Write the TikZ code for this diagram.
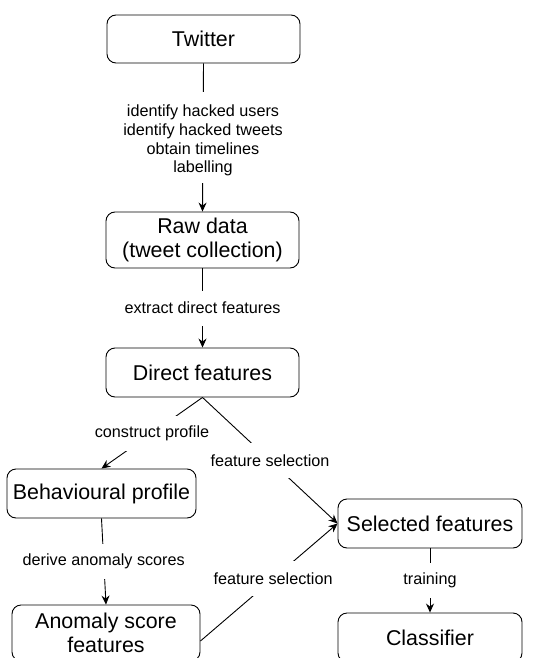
\documentclass[tikz,border=0pt]{standalone}
\usepackage{fontspec}
\setmainfont{Liberation Sans}
\usetikzlibrary{arrows.meta}
\begin{document}
\begin{tikzpicture}[x=1pt,y=-1pt,
  box/.style={draw, line width=0.9pt, rounded corners=9pt, align=center, inner sep=0pt,
    font=\fontsize{21.4}{24}\selectfont},
  lbl/.style={fill=white, inner xsep=3pt, inner ysep=0pt, minimum height=35pt, align=center,
    font=\fontsize{16.2}{18.7}\selectfont},
  conn/.style={draw, line width=0.9pt},
  arr/.style={conn, -{Stealth[length=9pt,width=8pt,inset=3pt]}}
]
\useasboundingbox (0,0) rectangle (535,658);
\clip (0,0) rectangle (535,658);

\node[box, minimum width=193pt, minimum height=48pt] (tw) at (203.5,39) {Twitter};
\node[box, minimum width=193pt, minimum height=56pt] (raw) at (202.5,240) {Raw data\\(tweet collection)};
\node[box, minimum width=193pt, minimum height=49pt] (dir) at (202.5,372.5) {Direct features};
\node[box, minimum width=189pt, minimum height=49pt] (beh) at (101.5,493.5) {Behavioural profile};
\node[box, minimum width=184pt, minimum height=49pt] (sel) at (430,523.5) {Selected features};
\node[box, minimum width=188pt, minimum height=56pt] (anom) at (106,633) {Anomaly score\\features};
\node[box, minimum width=184pt, minimum height=49pt] (cls) at (430,637.5) {Classifier};
\coordinate (anomr) at ([yshift=-8pt]anom.east);

\draw[arr] (tw.south) -- node[lbl, minimum height=91pt] {\rule{0pt}{18pt}identify hacked users\\identify hacked tweets\\obtain timelines\\labelling} (raw.north);
\draw[arr] (raw.south) -- node[lbl] {extract direct features} (dir.north);
\draw[arr] (dir.south) -- node[lbl] {construct profile} (beh.north);
\draw[arr] (dir.south) -- node[lbl] {feature selection} (sel.west);
\draw[arr] (beh.south) -- node[lbl] {derive anomaly scores} (anom.north);
\draw[arr] (anomr) -- node[lbl, pos=0.53] {feature selection} (sel.west);
\draw[arr] (sel.south) -- node[lbl] {training} (cls.north);
\end{tikzpicture}
\end{document}
